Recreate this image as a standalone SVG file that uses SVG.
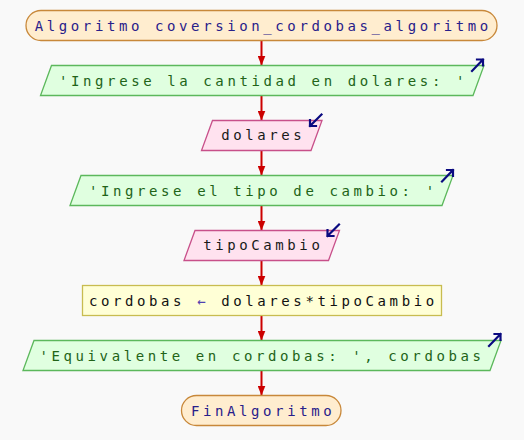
<svg xmlns="http://www.w3.org/2000/svg" width="524" height="440" viewBox="0 0 524 440">
<defs>
<style>
.t{font-family:"DejaVu Sans Mono","Liberation Mono",monospace;font-size:14px;letter-spacing:3.6px;text-anchor:middle}
.term{fill:#ffedcf;stroke:#c8883a;stroke-width:1.3}
.out{fill:#e0ffe0;stroke:#5cb85c;stroke-width:1.3}
.inp{fill:#ffe2ef;stroke:#c8508a;stroke-width:1.3}
.proc{fill:#ffffd6;stroke:#c8bc50;stroke-width:1.3}
.tt{fill:#28208a}
.to{fill:#226418}
.ti{fill:#1a1a1a}
.tp{fill:#111}
.ic{fill:none;stroke:#0a0a80;stroke-width:2.2;stroke-linecap:square}
.cn{stroke:#cc0000;stroke-width:2}
</style>
<marker id="ah" markerWidth="10" markerHeight="8" refX="10" refY="4" orient="auto" markerUnits="userSpaceOnUse">
<path d="M0,0 L10,4 L0,8 Z" fill="#cc0000"/>
</marker>
</defs>
<rect width="524" height="440" fill="#f9f9f9"/>
<g id="connectors">
<line class="cn" x1="261.5" y1="40.5" x2="261.5" y2="65.5" marker-end="url(#ah)"/>
<line class="cn" x1="261.5" y1="95.5" x2="261.5" y2="120.5" marker-end="url(#ah)"/>
<line class="cn" x1="261.5" y1="150.5" x2="261.5" y2="175.5" marker-end="url(#ah)"/>
<line class="cn" x1="261.5" y1="205.5" x2="261.5" y2="230.5" marker-end="url(#ah)"/>
<line class="cn" x1="261.5" y1="260.5" x2="261.5" y2="285.5" marker-end="url(#ah)"/>
<line class="cn" x1="261.5" y1="315.5" x2="261.5" y2="340.5" marker-end="url(#ah)"/>
<line class="cn" x1="261.5" y1="370.5" x2="261.5" y2="395.5" marker-end="url(#ah)"/>
</g>
<g id="start">
<rect class="term" x="26" y="10.5" width="471" height="30" rx="15"/>
<text class="t tt" x="263.3" y="30.5">Algoritmo coversion_cordobas_algoritmo</text>
</g>
<g id="out1">
<polygon class="out" points="51.5,65.5 484,65.5 473,95.5 40.5,95.5"/>
<text class="t to" x="263.5" y="85.5">'Ingrese la cantidad en dolares: '</text>
<path class="ic" d="M472,71 L483,59.5 M477,59.5 L483,59.5 L483,65.5"/>
</g>
<g id="in1">
<polygon class="inp" points="212.5,120.5 322,120.5 311,150.5 201.5,150.5"/>
<text class="t ti" x="263.3" y="140">dolares</text>
<path class="ic" d="M321.5,114.5 L310,126 M310,120 L310,126 L316,126"/>
</g>
<g id="out2">
<polygon class="out" points="81,175.5 453,175.5 442,205.5 70,205.5"/>
<text class="t to" x="263.3" y="195.5">'Ingrese el tipo de cambio: '</text>
<path class="ic" d="M442,181.5 L453,170 M447,170 L453,170 L453,176"/>
</g>
<g id="in2">
<polygon class="inp" points="195,230.5 339.5,230.5 328.5,260.5 184,260.5"/>
<text class="t ti" x="263.3" y="250">tipoCambio</text>
<path class="ic" d="M339,224.5 L327.5,236 M327.5,230 L327.5,236 L333.5,236"/>
</g>
<g id="proc">
<rect class="proc" x="82.5" y="285.5" width="359" height="30"/>
<text class="t tp" x="263.3" y="305.5">cordobas <tspan fill="#5040b0">←</tspan> dolares*tipoCambio</text>
</g>
<g id="out3">
<polygon class="out" points="34,340.5 501,340.5 490,370.5 23,370.5"/>
<text class="t to" x="262" y="360.5">'Equivalente en cordobas: ', cordobas</text>
<path class="ic" d="M489,346 L500.5,334 M494.5,334 L500.5,334 L500.5,340"/>
</g>
<g id="end">
<rect class="term" x="181.5" y="395.5" width="159.5" height="30" rx="15"/>
<text class="t tt" x="263.1" y="415.5">FinAlgoritmo</text>
</g>
</svg>
